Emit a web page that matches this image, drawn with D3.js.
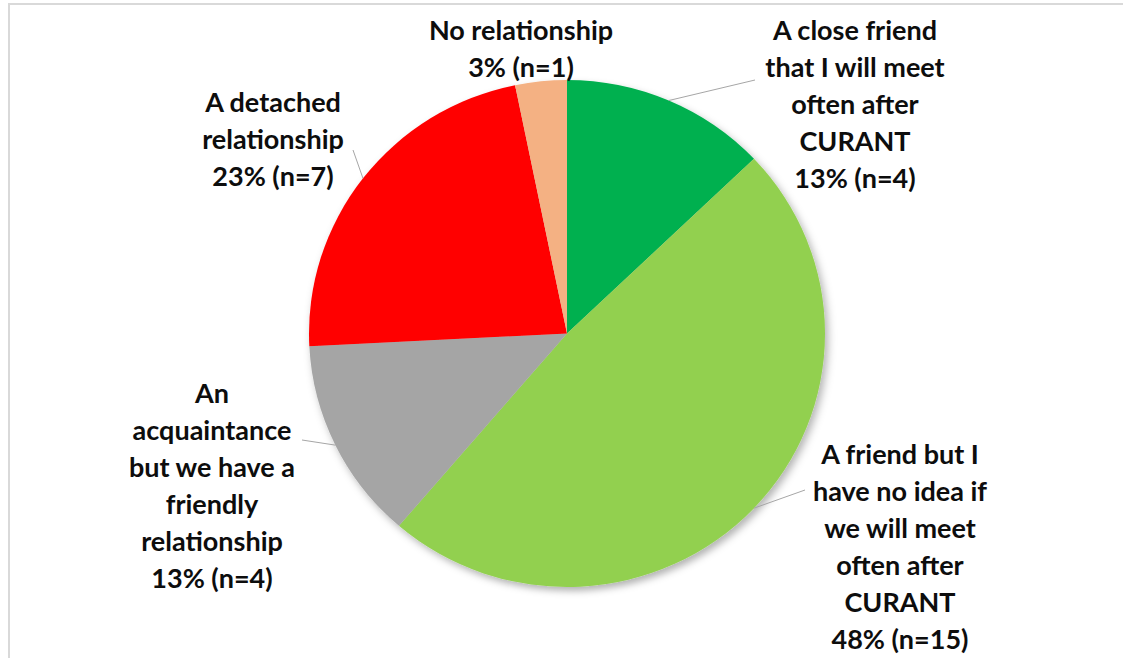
<!DOCTYPE html>
<meta charset="utf-8">
<style>
body { margin: 0; background: #fff; }
.lbl { font-family: "Lato", "Open Sans", sans-serif; font-weight: bold; font-size: 27px; fill: #0d0d0d; }
.leader { stroke: #a6a6a6; stroke-width: 1; fill: none; }
.frame { stroke: #d9d9d9; stroke-width: 2; }
</style>
<body>
<script src="https://cdn.jsdelivr.net/npm/d3@7"></script>
<script>
// data
var categories = [
  "A close friend that I will meet often after CURANT",
  "A friend but I have no idea if we will meet often after CURANT",
  "An acquaintance but we have a friendly relationship",
  "A detached relationship",
  "No relationship"
];
var counts = [4, 15, 4, 7, 1];
var percents = ["13%", "48%", "13%", "23%", "3%"];
var colors = ["#00b050", "#92d050", "#a5a5a5", "#ff0000", "#f4b183"];
// how Excel wrapped each label
var labelLines = [
  ["A close friend", "that I will meet", "often after", "CURANT"],
  ["A friend but I", "have no idea if", "we will meet", "often after", "CURANT"],
  ["An", "acquaintance", "but we have a", "friendly", "relationship"],
  ["A detached", "relationship"],
  ["No relationship"]
];

var width = 1123, height = 658;
var cx = 567, cy = 333.5, r = 258;
var lineH = 37;
// label box: center x, center y of first line; leader end point
var labelLayout = [
  {x: 855, y: 31, end: [755, 80]},
  {x: 900, y: 455, end: [805, 490]},
  {x: 212, y: 394, end: [302, 440]},
  {x: 273, y: 103, end: [353, 150]},
  {x: 521, y: 31, end: null}
];

var svg = d3.select("body").append("svg")
  .attr("width", width)
  .attr("height", height);

var defs = svg.append("defs");
defs.append("filter").attr("id", "shadow")
  .attr("x", "-10%").attr("y", "-10%").attr("width", "120%").attr("height", "120%")
  .append("feDropShadow")
  .attr("dx", 3).attr("dy", 4).attr("stdDeviation", 4)
  .attr("flood-color", "#000").attr("flood-opacity", 0.3);

// chart frame (only top and left edges show)
svg.append("line").attr("class", "frame")
  .attr("x1", 8).attr("y1", 4).attr("x2", width).attr("y2", 4);
svg.append("line").attr("class", "frame")
  .attr("x1", 9).attr("y1", 4).attr("x2", 9).attr("y2", height);

var pie = d3.pie().sort(null).value(function(d) { return d; });
var arcs = pie(counts);
var arc = d3.arc().innerRadius(0).outerRadius(r);
var sy = 253.5 / 258;

var g = svg.append("g")
  .attr("transform", "translate(" + cx + "," + cy + ") scale(1," + sy + ")")
  .attr("filter", "url(#shadow)");

g.selectAll("path.slice")
  .data(arcs)
  .enter().append("path")
  .attr("class", "slice")
  .attr("d", arc)
  .attr("fill", function(d, i) { return colors[i]; });

// leader lines from the slice edge at mid angle
arcs.forEach(function(d, i) {
  var L = labelLayout[i];
  if (!L.end) return;
  var a = (d.startAngle + d.endAngle) / 2;
  var sx = cx + r * Math.sin(a), syy = cy - r * sy * Math.cos(a);
  svg.append("path").attr("class", "leader")
    .attr("d", d3.line()([[sx, syy], L.end]));
});

// labels
labelLines.forEach(function(lines, i) {
  var L = labelLayout[i];
  var all = lines.concat([percents[i] + " (n=" + counts[i] + ")"]);
  var t = svg.append("text").attr("class", "lbl")
    .attr("text-anchor", "middle");
  all.forEach(function(s, j) {
    t.append("tspan")
      .attr("x", L.x)
      .attr("y", L.y + j * lineH)
      .attr("dy", "0.35em")
      .text(s);
  });
});
</script>
</body>
